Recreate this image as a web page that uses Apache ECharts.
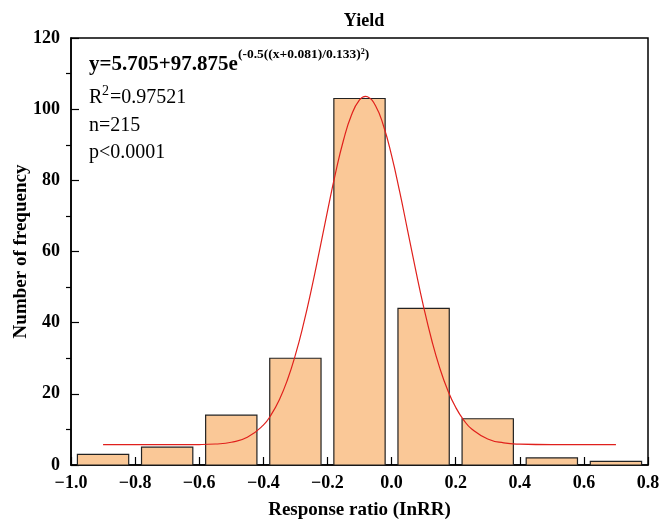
<!DOCTYPE html>
<html>
<head>
<meta charset="utf-8">
<script src="https://cdn.jsdelivr.net/npm/echarts@6/dist/echarts.min.js"></script>
<style>
html,body{margin:0;padding:0;background:#fff;}
#main{width:662px;height:525px;}
</style>
</head>
<body>
<div id="main"></div>
<script>
// bin centres (lnRR) and counts
var binCenters = [-0.9, -0.7, -0.5, -0.3, -0.1, 0.1, 0.3, 0.5, 0.7];
var counts = [3, 5, 14, 30, 103, 44, 13, 2, 1];
var binWidth = 0.16;

// gaussian fit curve
var fitX = [-0.9, -0.8, -0.7, -0.6, -0.55, -0.5, -0.45, -0.4, -0.375, -0.35, -0.325, -0.3, -0.275, -0.25, -0.225, -0.2, -0.175, -0.15, -0.125, -0.1, -0.081, -0.075, -0.05, -0.025, 0, 0.025, 0.05, 0.075, 0.1, 0.125, 0.15, 0.175, 0.2, 0.225, 0.25, 0.3, 0.35, 0.4, 0.5, 0.6, 0.7];
var fitY = [5.71, 5.71, 5.71, 5.75, 5.90, 6.39, 7.79, 11.22, 14.21, 18.36, 23.89, 30.94, 39.49, 49.37, 60.17, 71.29, 81.95, 91.26, 98.37, 102.58, 103.58, 103.48, 100.96, 95.27, 87.01, 76.95, 65.96, 54.90, 44.47, 35.20, 27.37, 21.06, 16.21, 12.64, 10.13, 7.32, 6.22, 5.85, 5.71, 5.71, 5.71];

var barData = [];
for (var i = 0; i < binCenters.length; i++) barData.push([binCenters[i], counts[i]]);
var lineData = [];
for (var j = 0; j < fitX.length; j++) lineData.push([fitX[j], fitY[j]]);

var font = '"Liberation Serif", "Times New Roman", serif';

var chart = echarts.init(document.getElementById('main'));
var option = {
  backgroundColor: '#fff',
  animation: false,
  title: {
    text: 'Yield',
    left: 359,
    top: 7,
    textAlign: 'center',
    textStyle: {fontFamily: font, fontWeight: 'bold', fontSize: 18, color: '#000'}
  },
  grid: {
    left: 71, right: 14, top: 38, bottom: 60,
    outerBoundsMode: 'none',
    show: true, borderColor: '#000', borderWidth: 1.5, backgroundColor: 'transparent'
  },
  xAxis: {
    type: 'value',
    min: -1.0, max: 0.8, interval: 0.2,
    name: 'Response ratio (InRR)',
    nameLocation: 'middle',
    nameGap: 36,
    nameMoveOverlap: false,
    nameTextStyle: {fontFamily: font, fontWeight: 'bold', fontSize: 19, color: '#000'},
    axisLine: {show: true, onZero: false, lineStyle: {color: '#000', width: 1.5}},
    axisTick: {show: true, inside: true, length: 8, lineStyle: {color: '#000', width: 1.2}},
    splitLine: {show: false},
    axisLabel: {
      fontFamily: font, fontWeight: 'bold', fontSize: 18, color: '#000', margin: 9,
      formatter: function (v) {
        var s = Math.abs(v).toFixed(1);
        return v < -1e-9 ? '\u2212' + s : s;
      }
    }
  },
  yAxis: {
    type: 'value',
    min: 0, max: 120, interval: 20,
    name: 'Number of frequency',
    nameLocation: 'middle',
    nameGap: 40,
    nameMoveOverlap: false,
    nameTextStyle: {fontFamily: font, fontWeight: 'bold', fontSize: 19, color: '#000'},
    axisLine: {show: true, onZero: false, lineStyle: {color: '#000', width: 1.5}},
    axisTick: {show: true, inside: true, length: 8, lineStyle: {color: '#000', width: 1.2}},
    minorTick: {show: true, splitNumber: 2, length: -5, lineStyle: {color: '#000', width: 1.2}},
    splitLine: {show: false},
    axisLabel: {fontFamily: font, fontWeight: 'bold', fontSize: 18, color: '#000', margin: 11}
  },
  series: [
    {
      type: 'custom',
      data: barData,
      renderItem: function (params, api) {
        var xc = api.value(0), h = api.value(1);
        var p0 = api.coord([xc - binWidth / 2, h]);
        var p1 = api.coord([xc + binWidth / 2, 0]);
        return {
          type: 'rect',
          shape: {x: p0[0], y: p0[1], width: p1[0] - p0[0], height: p1[1] - p0[1]},
          style: {fill: '#FAC897', stroke: '#222', lineWidth: 1.2}
        };
      },
      z: 2
    },
    {
      type: 'line',
      data: lineData,
      smooth: true,
      showSymbol: false,
      lineStyle: {color: '#E0201C', width: 1.2},
      z: 3
    }
  ],
  graphic: [
    {type: 'text', left: 89, top: 54, style: {text: 'y=5.705+97.875e', font: 'bold 21px ' + font, fill: '#000'}},
    {type: 'text', left: 238, top: 48, style: {text: '(-0.5((x+0.081)/0.133)\u00b2)', font: 'bold 13.5px ' + font, fill: '#000'}},
    {type: 'text', left: 89, top: 88, style: {text: 'R', font: '20px ' + font, fill: '#000'}},
    {type: 'text', left: 102, top: 84, style: {text: '2', font: '14px ' + font, fill: '#000'}},
    {type: 'text', left: 110, top: 88, style: {text: '=0.97521', font: '20px ' + font, fill: '#000'}},
    {type: 'text', left: 89, top: 116, style: {text: 'n=215', font: '20px ' + font, fill: '#000'}},
    {type: 'text', left: 89, top: 143, style: {text: 'p<0.0001', font: '20px ' + font, fill: '#000'}}
  ]
};
chart.setOption(option);
</script>
</body>
</html>
